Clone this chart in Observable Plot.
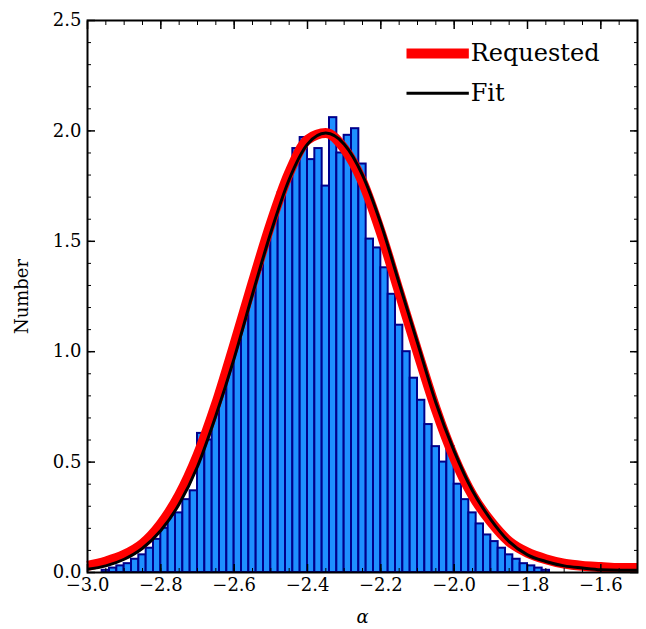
<!DOCTYPE html>
<html><head><meta charset="utf-8">
<script src="https://cdn.jsdelivr.net/npm/d3@7"></script>
<script src="https://cdn.jsdelivr.net/npm/@observablehq/plot@0.6"></script>
<style>body{margin:0;background:#fff}</style>
</head><body><div id="chart"></div>
<script>
// histogram: bin centres and heights (bin width 0.02)
const binCenters = [-2.95,-2.93,-2.91,-2.89,-2.87,-2.85,-2.83,-2.81,-2.79,-2.77,-2.75,-2.73,-2.71,-2.69,-2.67,-2.65,-2.63,-2.61,-2.59,-2.57,-2.55,-2.53,-2.51,-2.49,-2.47,-2.45,-2.43,-2.41,-2.39,-2.37,-2.35,-2.33,-2.31,-2.29,-2.27,-2.25,-2.23,-2.21,-2.19,-2.17,-2.15,-2.13,-2.11,-2.09,-2.07,-2.05,-2.03,-2.01,-1.99,-1.97,-1.95,-1.93,-1.91,-1.89,-1.87,-1.85,-1.83,-1.81,-1.79,-1.77,-1.75];
const binHeights = [0.01,0.02,0.03,0.04,0.06,0.08,0.11,0.15,0.20,0.26,0.27,0.33,0.37,0.63,0.60,0.72,0.84,0.93,1.04,1.15,1.27,1.37,1.50,1.62,1.72,1.80,1.92,1.97,1.87,1.92,1.75,2.06,1.90,1.98,2.01,1.85,1.51,1.47,1.38,1.26,1.12,1.00,0.88,0.78,0.67,0.57,0.50,0.57,0.40,0.33,0.27,0.22,0.17,0.14,0.11,0.08,0.06,0.04,0.03,0.02,0.01];

const curveX = [-3.00,-2.95,-2.90,-2.85,-2.80,-2.75,-2.70,-2.65,-2.60,-2.55,-2.50,-2.45,-2.40,-2.35,-2.30,-2.25,-2.20,-2.15,-2.10,-2.05,-2.00,-1.95,-1.90,-1.85,-1.80,-1.75,-1.70,-1.65,-1.60,-1.55,-1.50];
const reqY = [0.03,0.05,0.08,0.13,0.22,0.35,0.53,0.76,1.03,1.31,1.58,1.81,1.96,1.99,1.92,1.77,1.54,1.27,1.00,0.74,0.52,0.35,0.23,0.14,0.09,0.06,0.04,0.03,0.025,0.02,0.02];
const fitY = [0.015,0.03,0.06,0.11,0.19,0.31,0.48,0.71,0.97,1.26,1.54,1.78,1.94,1.99,1.94,1.80,1.58,1.31,1.04,0.77,0.55,0.37,0.24,0.14,0.08,0.05,0.03,0.02,0.012,0.01,0.01];

const bins = binCenters.map((c, i) => ({x1: c - 0.01, x2: c + 0.01, y: binHeights[i]}));
const req = curveX.map((x, i) => ({x, y: reqY[i]}));
const fit = curveX.map((x, i) => ({x, y: fitY[i]}));

const majX = d3.range(-3.0, -1.49, 0.2).map(v => +v.toFixed(2));
const minX = d3.range(-3.0, -1.49, 0.05).map(v => +v.toFixed(2));
const majY = [0, 0.5, 1, 1.5, 2, 2.5];
const minY = d3.range(0, 2.51, 0.1).map(v => +v.toFixed(2));
const fmt = d3.format(".1f");
const none = () => "";

const chart = Plot.plot({
  width: 646, height: 629,
  marginLeft: 87, marginRight: 9, marginTop: 20, marginBottom: 57,
  x: {domain: [-3.0, -1.5]},
  y: {domain: [0, 2.5]},
  style: {fontFamily: "'DejaVu Serif', serif", fontSize: "17px", color: "black"},
  marks: [
    Plot.rectY(bins, {x1: "x1", x2: "x2", y: "y", fill: "#1e8fff", stroke: "#00008b", strokeWidth: 2, inset: 0}),
    Plot.line(req, {x: "x", y: "y", stroke: "red", strokeWidth: 10, curve: "monotone-x", strokeLinecap: "butt"}),
    Plot.line(fit, {x: "x", y: "y", stroke: "black", strokeWidth: 3, curve: "monotone-x", strokeLinecap: "butt"}),
    // legend
    Plot.line([{x: -2.13, y: 2.35}, {x: -1.96, y: 2.35}], {x: "x", y: "y", stroke: "red", strokeWidth: 10, strokeLinecap: "butt"}),
    Plot.line([{x: -2.13, y: 2.17}, {x: -1.96, y: 2.17}], {x: "x", y: "y", stroke: "black", strokeWidth: 3, strokeLinecap: "butt"}),
    Plot.text(["Requested"], {x: -1.955, y: 2.35, textAnchor: "start", fontSize: 24}),
    Plot.text(["Fit"], {x: -1.955, y: 2.17, textAnchor: "start", fontSize: 24}),
    Plot.frame({strokeWidth: 2}),
    Plot.axisX(majX, {tickSize: -8, strokeWidth: 1.5, tickFormat: fmt, tickPadding: 14, label: "α", labelAnchor: "center", labelArrow: "none", labelOffset: 50, fontSize: 18}),
    Plot.axisX(minX, {tickSize: -4, tickFormat: none, label: null}),
    Plot.axisX(majX, {anchor: "top", tickSize: -8, strokeWidth: 1.5, tickFormat: none, label: null}),
    Plot.axisX(minX, {anchor: "top", tickSize: -4, tickFormat: none, label: null}),
    Plot.axisY(majY, {tickSize: -8, strokeWidth: 1.5, tickFormat: fmt, tickPadding: 14, label: "Number", labelAnchor: "center", labelArrow: "none", labelOffset: 72, fontSize: 18}),
    Plot.axisY(minY, {tickSize: -4, tickFormat: none, label: null}),
    Plot.axisY(majY, {anchor: "right", tickSize: -8, strokeWidth: 1.5, tickFormat: none, label: null}),
    Plot.axisY(minY, {anchor: "right", tickSize: -4, tickFormat: none, label: null})
  ]
});
d3.select("#chart").append(() => chart);
d3.select(chart).selectAll("text").filter(function(){return this.textContent === "α";}).style("font-style", "italic");
</script></body></html>
